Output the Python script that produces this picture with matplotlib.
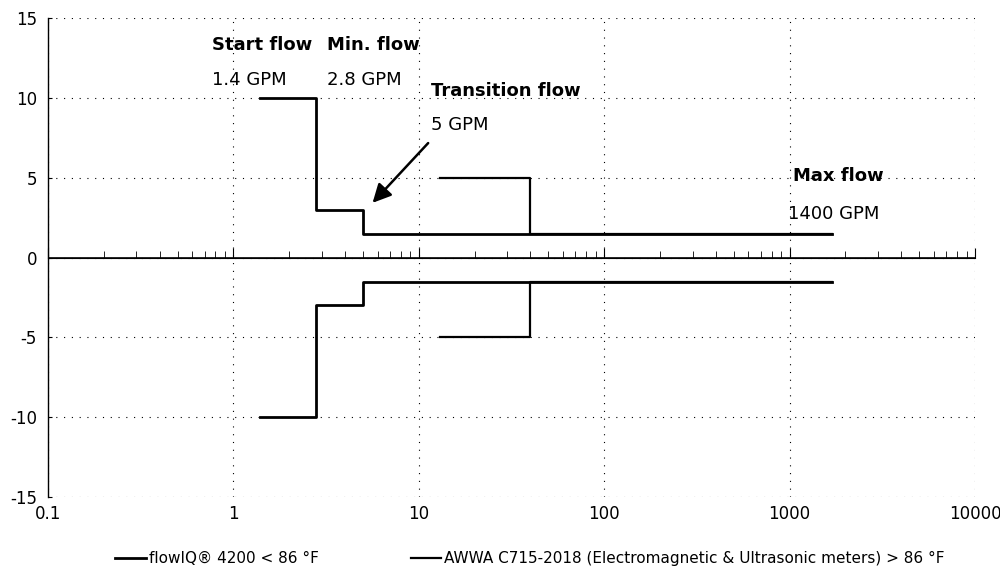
import matplotlib.pyplot as plt
from matplotlib.ticker import LogLocator, NullFormatter, FixedLocator

plt.rcParams['font.family'] = ['DejaVu Sans']
plt.rcParams['axes.unicode_minus'] = False

# flowIQ 4200 accuracy envelope (GPM, %)
flowiq_x = [1.4, 2.8, 2.8, 5, 5, 1700]
flowiq_y = [10, 10, 3, 3, 1.5, 1.5]

# AWWA C715-2018 envelope
awwa_x = [13, 40, 40, 1700]
awwa_y = [5, 5, 1.5, 1.5]

fig = plt.figure(figsize=(10, 5.67), dpi=100)
ax = fig.add_axes([0.048, 0.1235, 0.927, 0.8445])

ax.plot(flowiq_x, flowiq_y, color='black', lw=2, label='flowIQ® 4200 < 86 °F')
ax.plot(flowiq_x, [-v for v in flowiq_y], color='black', lw=2)
ax.plot(awwa_x, awwa_y, color='black', lw=1.6,
        label='AWWA C715-2018 (Electromagnetic & Ultrasonic meters) > 86 °F')
ax.plot(awwa_x, [-v for v in awwa_y], color='black', lw=1.6)

ax.set_xscale('log')
ax.set_xlim(0.1, 10000)
ax.set_ylim(-15, 15)
ax.set_yticks([-15, -10, -5, 0, 5, 10, 15])
ax.set_xticks([0.1, 1, 10, 100, 1000, 10000])
ax.set_xticklabels(['0.1', '1', '10', '100', '1000', '10000'])
ax.xaxis.set_minor_locator(FixedLocator([]))
ax.tick_params(axis='x', length=0, labelsize=12, pad=6)
ax.tick_params(axis='y', length=3, labelsize=12, direction='in', pad=8)
ax.grid(True, which='major', color='black', linestyle=(0, (1, 6)), lw=0.8)

for s in ['top', 'right', 'bottom']:
    ax.spines[s].set_visible(False)
ax.spines['left'].set_linewidth(1.0)

# zero line with log ticks
ax.axhline(0, color='black', lw=1.2)
sec = ax.secondary_xaxis(0.5)
sec.xaxis.set_major_locator(LogLocator(base=10))
sec.xaxis.set_minor_locator(LogLocator(base=10, subs=range(2, 10)))
sec.xaxis.set_major_formatter(NullFormatter())
sec.xaxis.set_minor_formatter(NullFormatter())
sec.tick_params(which='major', length=7, direction='out')
sec.tick_params(which='minor', length=5, direction='out')
sec.spines['bottom'].set_visible(False)

# annotations
fs = 13
ax.text(0.77, 13.3, 'Start flow', fontsize=fs, fontweight='bold', va='center')
ax.text(0.77, 11.1, '1.4 GPM', fontsize=fs, va='center')
ax.text(3.2, 13.3, 'Min. flow', fontsize=fs, fontweight='bold', va='center')
ax.text(3.2, 11.1, '2.8 GPM', fontsize=fs, va='center')
ax.text(11.6, 10.45, 'Transition flow', fontsize=fs, fontweight='bold', va='center')
ax.text(11.6, 8.3, '5 GPM', fontsize=fs, va='center')
ax.text(1040, 5.1, 'Max flow', fontsize=fs, fontweight='bold', va='center')
ax.text(980, 2.75, '1400 GPM', fontsize=fs, va='center')
ax.annotate('', xy=(5.5, 3.3), xytext=(11.5, 7.3),
            arrowprops=dict(arrowstyle='-|>', color='black', lw=1.8,
                            mutation_scale=28))

ax.legend(loc='upper center', bbox_to_anchor=(0.52, -0.085), ncol=2,
          frameon=False, fontsize=11, handlelength=2, columnspacing=6,
          handletextpad=0.2)

fig.savefig('out.png', dpi=100)
